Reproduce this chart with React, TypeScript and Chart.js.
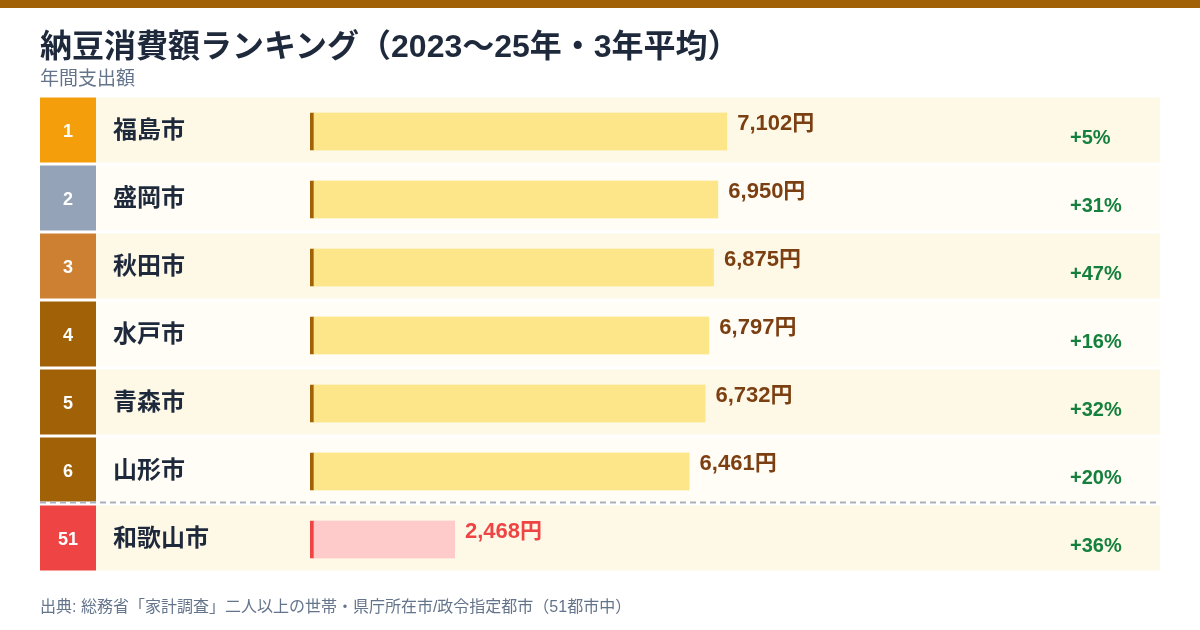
import { useEffect, useRef } from 'react';
import Chart from 'chart.js/auto';

// ranking data (2023-25 average, annual spending in yen)
const ranks = ['1', '2', '3', '4', '5', '6', '51'];
const cities = ['福島市', '盛岡市', '秋田市', '水戸市', '青森市', '山形市', '和歌山市'];
const spending = [7102, 6950, 6875, 6797, 6732, 6461, 2468];
const changes = [5, 31, 47, 16, 32, 20, 36];

const FONT = '"Liberation Sans", "Noto Sans CJK JP", sans-serif';
const BROWN = '#a16207';
const RED = '#ef4444';

function rankColor(rank: string) {
  if (rank === '1') return '#f59e0b';
  if (rank === '2') return '#94a3b8';
  if (rank === '3') return '#cd7f32';
  if (Number(rank) > 10) return RED;
  return BROWN;
}

const rowPlugin = {
  id: 'rows',
  beforeDraw(chart: any) {
    const { ctx, scales } = chart;
    const y = scales.y;
    ctx.save();
    cities.forEach((_, i) => {
      const cy = y.getPixelForValue(i);
      const top = cy - 34;
      const h = i === 5 ? 64 : 65;
      ctx.fillStyle = i % 2 === 0 ? '#fdf9e6' : '#fffdf5';
      ctx.fillRect(96, top, 1064, h);
      ctx.fillStyle = rankColor(ranks[i]);
      ctx.fillRect(40, top, 56, h);
      ctx.fillStyle = '#ffffff';
      ctx.font = `bold 18px ${FONT}`;
      ctx.textAlign = 'center';
      ctx.textBaseline = 'middle';
      ctx.fillText(ranks[i], 68, cy + 1);
    });
    // separator before the last row
    const sep = y.getPixelForValue(5) + 31;
    ctx.strokeStyle = '#aab0bb';
    ctx.lineWidth = 2;
    ctx.setLineDash([6, 4]);
    ctx.beginPath();
    ctx.moveTo(40, sep);
    ctx.lineTo(1160, sep);
    ctx.stroke();
    ctx.restore();
  },
  afterDatasetsDraw(chart: any) {
    const { ctx } = chart;
    const meta = chart.getDatasetMeta(0);
    ctx.save();
    ctx.textBaseline = 'middle';
    ctx.textAlign = 'left';
    meta.data.forEach((bar: any, i: number) => {
      ctx.font = `bold 22px ${FONT}`;
      ctx.fillStyle = i === 6 ? RED : '#7c3f12';
      ctx.fillText(spending[i].toLocaleString('en-US') + '円', bar.x + 10, bar.y - 8);
      ctx.font = `bold 20px ${FONT}`;
      ctx.fillStyle = '#15803d';
      ctx.fillText(`+${changes[i]}%`, 1070, bar.y + 7);
    });
    ctx.restore();
  },
};

export default function App() {
  const canvasRef = useRef<HTMLCanvasElement>(null);
  const chartRef = useRef<Chart | null>(null);

  useEffect(() => {
    if (!canvasRef.current) return;
    if (chartRef.current) chartRef.current.destroy();

    chartRef.current = new Chart(canvasRef.current, {
      type: 'bar',
      data: {
        labels: cities,
        datasets: [
          {
            data: spending,
            backgroundColor: ranks.map(r => (Number(r) > 10 ? '#fecaca' : '#fde68a')),
            borderColor: ranks.map(r => (Number(r) > 10 ? RED : BROWN)),
            borderWidth: { left: 4, right: 0, top: 0, bottom: 0 },
            borderSkipped: false,
            barThickness: 38,
          },
        ],
      },
      options: {
        indexAxis: 'y',
        animation: false,
        responsive: true,
        maintainAspectRatio: false,
        layout: { padding: { left: 113, right: 185, top: 97.5, bottom: 56.5 } },
        plugins: { legend: { display: false }, tooltip: { enabled: false } },
        scales: {
          x: { display: false, min: 0, max: 12000 },
          y: {
            grid: { display: false },
            border: { display: false },
            ticks: {
              crossAlign: 'far',
              color: '#1e293b',
              font: { family: FONT, size: 24, weight: 'bold' },
            },
            afterFit: (scale: any) => {
              scale.width = 197;
            },
          },
        },
      },
      plugins: [rowPlugin],
    });

    return () => {
      if (chartRef.current) {
        chartRef.current.destroy();
        chartRef.current = null;
      }
    };
  }, []);

  return (
    <div
      style={{
        position: 'fixed',
        left: 0,
        top: 0,
        width: 1200,
        height: 630,
        background: '#ffffff',
        overflow: 'hidden',
        fontFamily: FONT,
      }}
    >
      <div style={{ position: 'absolute', left: 0, top: 0, width: 1200, height: 8, background: BROWN }} />
      <div style={{ position: 'absolute', left: 0, top: 0, width: 1200, height: 630 }}>
        <canvas ref={canvasRef}></canvas>
      </div>
      <div
        style={{
          position: 'absolute',
          left: 40,
          top: 27,
          fontSize: 32,
          lineHeight: '38px',
          fontWeight: 'bold',
          color: '#1e293b',
          whiteSpace: 'nowrap',
        }}
      >
        納豆消費額ランキング（2023〜25年・3年平均）
      </div>
      <div style={{ position: 'absolute', left: 40, top: 68, fontSize: 19, lineHeight: '22px', color: '#64748b' }}>
        年間支出額
      </div>
      <div
        style={{
          position: 'absolute',
          left: 40,
          top: 597,
          fontSize: 16,
          lineHeight: '20px',
          color: '#64748b',
          whiteSpace: 'nowrap',
        }}
      >
        出典: 総務省「家計調査」二人以上の世帯・県庁所在市/政令指定都市（51都市中）
      </div>
    </div>
  );
}
